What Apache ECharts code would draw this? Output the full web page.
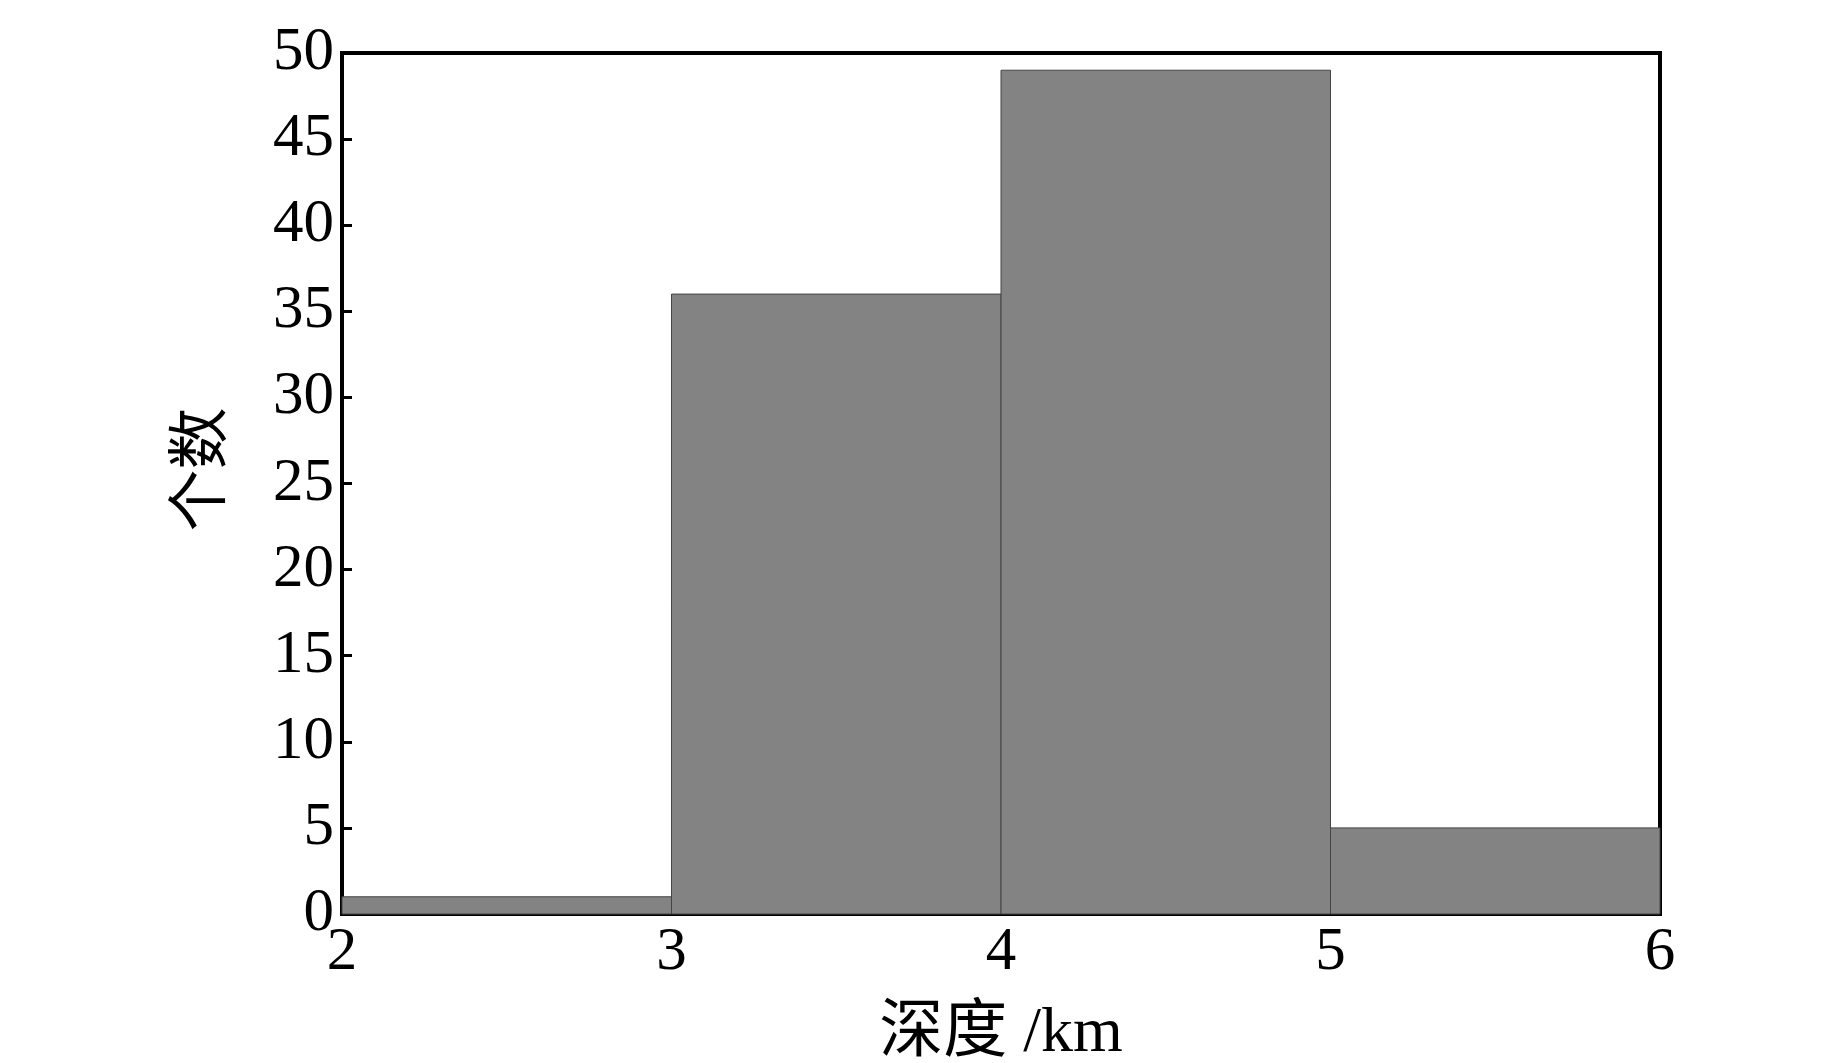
<!DOCTYPE html>
<html>
<head>
<meta charset="utf-8">
<title>深度直方图</title>
<style>
  html, body { margin: 0; padding: 0; background: #fff; }
  #chart { width: 1843px; height: 1063px; }
</style>
</head>
<body>
<div id="chart"></div>
<script src="https://cdn.jsdelivr.net/npm/echarts@6/dist/echarts.min.js"></script>
<script>
// bin edges (km) and counts per bin
var binStart = [2, 3, 4, 5];
var binEnd = [3, 4, 5, 6];
var counts = [1, 36, 49, 5];
var xTicks = [2, 3, 4, 5, 6];
var yTicks = [0, 5, 10, 15, 20, 25, 30, 35, 40, 45, 50];

var data = [];
for (var i = 0; i < counts.length; i++) {
  data.push([binStart[i], binEnd[i], counts[i]]);
}

var serif = '"Liberation Serif", "Times New Roman", serif';
var cjk = '"Liberation Serif", "Noto Sans CJK SC", serif';

var myChart = echarts.init(document.getElementById('chart'));
var option = {
  backgroundColor: '#fff',
  animation: false,
  grid: {
    left: 342, right: 183, top: 53, bottom: 149,
    outerBoundsMode: 'none',
    containLabel: false,
    show: true, borderColor: '#000', borderWidth: 4, backgroundColor: 'transparent'
  },
  xAxis: {
    type: 'value',
    min: xTicks[0], max: xTicks[xTicks.length - 1], interval: 1,
    name: '深度 /km',
    nameLocation: 'middle',
    nameGap: 88,
    nameTextStyle: { fontFamily: cjk, fontSize: 64, color: '#000' },
    axisLine: { show: true, lineStyle: { color: '#000', width: 4 } },
    axisTick: { show: true, inside: true, length: 10, lineStyle: { color: '#000', width: 3 } },
    axisLabel: { fontFamily: serif, fontSize: 61, color: '#000', margin: 8 },
    splitLine: { show: false }
  },
  yAxis: {
    type: 'value',
    min: yTicks[0], max: yTicks[yTicks.length - 1], interval: 5,
    name: '个数',
    nameLocation: 'middle',
    nameGap: 106,
    nameRotate: 90,
    nameTextStyle: { fontFamily: cjk, fontSize: 62, color: '#000', padding: [0, 0, 0, 28] },
    axisLine: { show: true, lineStyle: { color: '#000', width: 4 } },
    axisTick: { show: true, inside: true, length: 10, lineStyle: { color: '#000', width: 3 } },
    axisLabel: { fontFamily: serif, fontSize: 61, color: '#000', margin: 8 },
    splitLine: { show: false }
  },
  series: [{
    type: 'custom',
    data: data,
    encode: { x: [0, 1], y: 2 },
    renderItem: function (params, api) {
      var p0 = api.coord([api.value(0), 0]);
      var p1 = api.coord([api.value(1), api.value(2)]);
      return {
        type: 'rect',
        shape: { x: p0[0], y: p1[1], width: p1[0] - p0[0], height: p0[1] - p1[1] },
        style: { fill: '#838383', stroke: '#444', lineWidth: 1 }
      };
    }
  }]
};
myChart.setOption(option);
</script>
</body>
</html>
